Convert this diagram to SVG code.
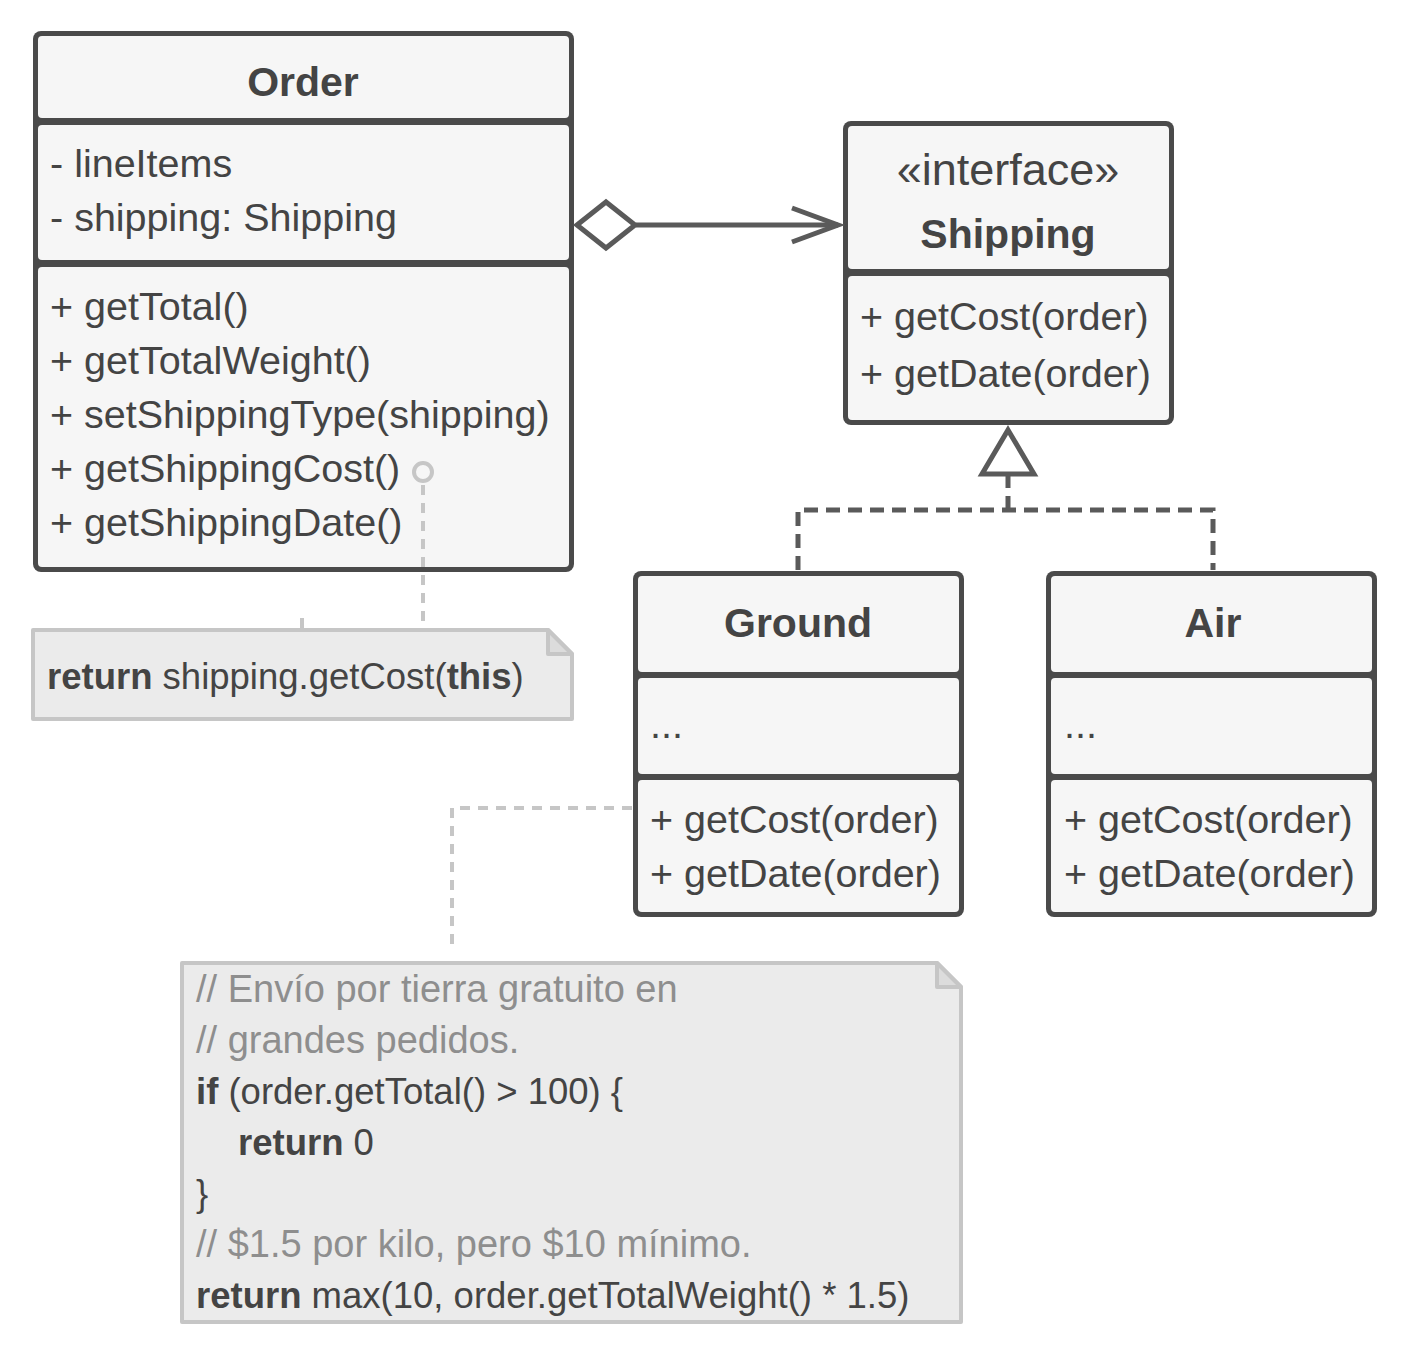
<svg xmlns="http://www.w3.org/2000/svg" width="1410" height="1350" viewBox="0 0 1410 1350">
<style>
  .frame { fill: #4a4a4a; }
  .comp { fill: #f6f6f6; }
  text { font-family: "Liberation Sans", Arial, sans-serif; fill: #444444; }
  .t { font-size: 39.5px; }
  .h { font-size: 41px; font-weight: bold; }
  .n { font-size: 36.5px; }
  .b { font-weight: bold; }
  .c { fill: #8e8e8e; font-size: 38px; }
  .note { fill: #ebebeb; stroke: #c6c6c6; stroke-width: 4; stroke-linejoin: round; }
  .fold { fill: #dcdcdc; stroke: #c6c6c6; stroke-width: 4; stroke-linejoin: round; }
  .dash { fill: none; stroke: #5a5a5a; stroke-width: 5; stroke-dasharray: 14 8; }
  .ndash { fill: none; stroke: #c6c6c6; stroke-width: 4; stroke-dasharray: 10 8; }
  .solid { fill: none; stroke: #5a5a5a; stroke-width: 5; }
</style>

<g id="Order">
  <rect class="frame" x="33" y="31" width="541" height="541" rx="8"/>
  <rect class="comp" x="38" y="36" width="531" height="82" rx="4"/>
  <rect class="comp" x="38" y="125" width="531" height="135" rx="4"/>
  <rect class="comp" x="38" y="267" width="531" height="300" rx="4"/>
  <text class="h" x="303" y="96" text-anchor="middle">Order</text>
  <text class="t" x="50" y="177">- lineItems</text>
  <text class="t" x="50" y="231">- shipping: Shipping</text>
  <text class="t" x="50" y="320">+ getTotal()</text>
  <text class="t" x="50" y="374">+ getTotalWeight()</text>
  <text class="t" x="50" y="428">+ setShippingType(shipping)</text>
  <text class="t" x="50" y="482">+ getShippingCost()</text>
  <text class="t" x="50" y="536">+ getShippingDate()</text>
</g>

<g id="Shipping">
  <rect class="frame" x="843" y="121" width="331" height="304" rx="8"/>
  <rect class="comp" x="848" y="126" width="321" height="143" rx="4"/>
  <rect class="comp" x="848" y="276" width="321" height="144" rx="4"/>
  <text class="t" x="1008" y="185" text-anchor="middle" style="font-size:45px">«interface»</text>
  <text class="h" x="1008" y="248" text-anchor="middle">Shipping</text>
  <text class="t" x="860" y="330">+ getCost(order)</text>
  <text class="t" x="860" y="387">+ getDate(order)</text>
</g>

<g id="Ground">
  <rect class="frame" x="633" y="571" width="331" height="346" rx="8"/>
  <rect class="comp" x="638" y="576" width="321" height="96" rx="4"/>
  <rect class="comp" x="638" y="678" width="321" height="96" rx="4"/>
  <rect class="comp" x="638" y="780" width="321" height="132" rx="4"/>
  <text class="h" x="798" y="637" text-anchor="middle">Ground</text>
  <text class="t" x="650" y="738">...</text>
  <text class="t" x="650" y="833">+ getCost(order)</text>
  <text class="t" x="650" y="887">+ getDate(order)</text>
</g>

<g id="Air">
  <rect class="frame" x="1046" y="571" width="331" height="346" rx="8"/>
  <rect class="comp" x="1051" y="576" width="321" height="96" rx="4"/>
  <rect class="comp" x="1051" y="678" width="321" height="96" rx="4"/>
  <rect class="comp" x="1051" y="780" width="321" height="132" rx="4"/>
  <text class="h" x="1213" y="637" text-anchor="middle">Air</text>
  <text class="t" x="1064" y="738">...</text>
  <text class="t" x="1064" y="833">+ getCost(order)</text>
  <text class="t" x="1064" y="887">+ getDate(order)</text>
</g>

<g id="note-order">
  <polygon class="note" points="33,630 548,630 572,654 572,719 33,719"/>
  <polygon class="fold" points="548,630 548,654 572,654"/>
  <text class="n" x="47" y="689"><tspan class="b">return</tspan> shipping.getCost(<tspan class="b">this</tspan>)</text>
</g>

<g id="note-ground">
  <polygon class="note" points="182,963 937,963 961,987 961,1322 182,1322"/>
  <polygon class="fold" points="937,963 937,987 961,987"/>
  <text class="n c" x="196" y="1002">// Envío por tierra gratuito en</text>
  <text class="n c" x="196" y="1053">// grandes pedidos.</text>
  <text class="n" x="196" y="1104"><tspan class="b">if</tspan> (order.getTotal() &gt; 100) {</text>
  <text class="n" x="238" y="1155"><tspan class="b">return</tspan> 0</text>
  <text class="n" x="196" y="1206">}</text>
  <text class="n c" x="196" y="1257">// $1.5 por kilo, pero $10 mínimo.</text>
  <text class="n" x="196" y="1308"><tspan class="b">return</tspan> max(10, order.getTotalWeight() * 1.5)</text>
</g>

<g id="connectors">
  <!-- aggregation Order -> Shipping -->
  <line class="solid" x1="636" y1="225" x2="838" y2="225"/>
  <polygon points="577,225 606,202 635,225 606,248" fill="#ffffff" stroke="#5a5a5a" stroke-width="5"/>
  <polyline class="solid" points="792,208 838,225 792,242"/>
  <!-- realization -->
  <polyline class="dash" points="798,570 798,510 1213,510 1213,570"/>
  <line class="dash" x1="1008" y1="510" x2="1008" y2="476"/>
  <polygon points="1008,430 1034,474 982,474" fill="#ffffff" stroke="#5a5a5a" stroke-width="5" stroke-linejoin="miter"/>
  <!-- note connectors -->
  <circle cx="423" cy="472" r="9" fill="none" stroke="#c6c6c6" stroke-width="4"/>
  <line class="ndash" x1="423" y1="485" x2="423" y2="628"/>
  <line x1="302" y1="618" x2="302" y2="630" stroke="#c6c6c6" stroke-width="4"/>
  <polyline class="ndash" points="632,808 452,808 452,948"/>
</g>
</svg>
